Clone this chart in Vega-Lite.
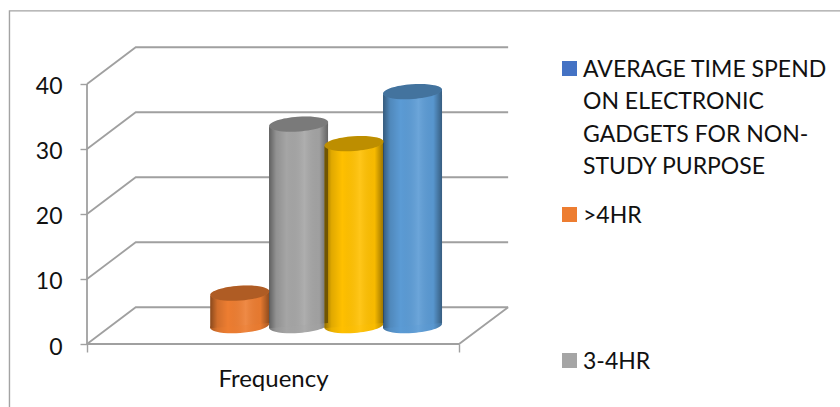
{
  "$schema": "https://vega.github.io/schema/vega-lite/v6.json",
  "width": 423,
  "height": 297,
  "autosize": "none",
  "padding": {"left": 87, "top": 47, "right": 330, "bottom": 63},
  "background": "white",
  "config": {"view": {"stroke": null}, "style": {"guide-label": {"lineHeight": 32.5}}},
  "datasets": {
    "frequency": [
      {"series": ">4HR", "slot": 0.4106, "value": 5},
      {"series": "3-4HR", "slot": 0.5686, "value": 31},
      {"series": "2-3HR", "slot": 0.7177, "value": 28},
      {"series": "<2HR", "slot": 0.8750, "value": 36}
    ],
    "sides": [
      {"series": ">4HR", "edge": 0.3313, "top": 4.6, "base": -0.4},
      {"series": ">4HR", "edge": 0.4899, "top": 5.4, "base": 0.4},
      {"series": "3-4HR", "edge": 0.4893, "top": 30.6, "base": -0.4},
      {"series": "3-4HR", "edge": 0.6479, "top": 31.4, "base": 0.4},
      {"series": "2-3HR", "edge": 0.6384, "top": 27.6, "base": -0.4},
      {"series": "2-3HR", "edge": 0.7970, "top": 28.4, "base": 0.4},
      {"series": "<2HR", "edge": 0.7957, "top": 35.6, "base": -0.4},
      {"series": "<2HR", "edge": 0.9543, "top": 36.4, "base": 0.4}
    ],
    "walls": [
      {"part": "40", "u": 0, "v": 40}, {"part": "40", "u": 0.131, "v": 45.65}, {"part": "40", "u": 1.132, "v": 45.65},
      {"part": "30", "u": 0, "v": 30}, {"part": "30", "u": 0.131, "v": 35.65}, {"part": "30", "u": 1.132, "v": 35.65},
      {"part": "20", "u": 0, "v": 20}, {"part": "20", "u": 0.131, "v": 25.65}, {"part": "20", "u": 1.132, "v": 25.65},
      {"part": "10", "u": 0, "v": 10}, {"part": "10", "u": 0.131, "v": 15.65}, {"part": "10", "u": 1.132, "v": 15.65},
      {"part": "0", "u": 0, "v": 0}, {"part": "0", "u": 0.131, "v": 5.65}, {"part": "0", "u": 1.132, "v": 5.65},
      {"part": "floor", "u": 0, "v": 0}, {"part": "floor", "u": 1, "v": 0}, {"part": "floor", "u": 1.132, "v": 5.65},
      {"part": "spine", "u": 0, "v": 0}, {"part": "spine", "u": 0, "v": 40}
    ],
    "outline": [
      {"u": -0.2084, "v": -9.7}, {"u": -0.2084, "v": 51.25}, {"u": 2.03, "v": 51.25}
    ]
  },
  "layer": [
    {
      "data": {"name": "outline"},
      "mark": {"type": "line", "stroke": "#a3a3a3", "strokeWidth": 1.4, "clip": false},
      "encoding": {
        "x": {"field": "u", "type": "quantitative", "scale": {"domain": [0, 1.137], "nice": false, "zero": false}, "axis": {"values": [0, 1], "labels": false, "domain": false, "grid": false, "tickSize": 8, "tickWidth": 1.4, "tickColor": "#a0a0a0", "title": "Frequency", "titleFont": "Lato", "titleFontSize": 24, "titleFontWeight": "normal", "titleColor": "#111111", "titleX": 186, "titleY": 35, "titleBaseline": "middle", "titleAlign": "center"}},
        "y": {"field": "v", "type": "quantitative", "scale": {"domain": [0, 45.69], "nice": false, "zero": false}, "axis": {"values": [0, 10, 20, 30, 40], "domain": false, "grid": false, "title": null, "tickSize": 7, "tickWidth": 1.4, "tickColor": "#a0a0a0", "labelFont": "Lato", "labelFontSize": 23, "labelColor": "#111111", "labelPadding": 18, "labelOffset": 3}},
        "order": {"field": "v", "type": "quantitative"}
      }
    },
    {
      "data": {"name": "walls"},
      "mark": {"type": "line", "stroke": "#a0a0a0", "strokeWidth": 1.8, "clip": false},
      "encoding": {
        "x": {"field": "u", "type": "quantitative"},
        "y": {"field": "v", "type": "quantitative", "scale": {"domain": [0, 45.69], "nice": false, "zero": false}, "axis": null},
        "detail": {"field": "part"},
        "order": {"field": "u", "type": "quantitative"}
      }
    },
    {
      "data": {"name": "frequency"},
      "mark": {"type": "point", "filled": true, "opacity": 1, "size": 3481, "shape": "M-1,0.07A1.002,0.25,-4,1,1,1,-0.07A1.002,0.25,-4,1,1,-1,0.07Z"},
      "encoding": {
        "x": {"field": "slot", "type": "quantitative"},
        "y": {"datum": 0, "type": "quantitative", "scale": {"domain": [-2.82, 42.87], "nice": false, "zero": false}, "axis": null},
        "color": {
          "field": "series",
          "type": "nominal",
          "scale": {
            "domain": ["AVERAGE TIME SPEND ON ELECTRONIC GADGETS FOR NON-STUDY PURPOSE", ">4HR", "3-4HR", "2-3HR", "<2HR"],
            "range": ["#4472c4", "#ed7d31", "#a5a5a5", "#ffc000", "#5b9bd5"]
          },
          "legend": {
            "values": ["AVERAGE TIME SPEND ON ELECTRONIC GADGETS FOR NON-STUDY PURPOSE", ">4HR", "3-4HR"],
            "orient": "none",
            "legendX": 471,
            "legendY": 18,
            "title": null,
            "symbolType": "M-1,-2.07H1V-0.07H-1Z",
            "symbolSize": 225,
            "symbolStrokeWidth": 0,
            "symbolOpacity": 1,
            "gridAlign": "all",
            "rowPadding": 25,
            "labelFont": "Lato",
            "labelFontSize": 23,
            "labelColor": "#111111",
            "labelLimit": 300,
            "labelOffset": 2,
            "labelBaseline": "alphabetic",
            "labelExpr": "datum.label[0] == 'A' ? ['AVERAGE TIME SPEND', 'ON ELECTRONIC', 'GADGETS FOR NON-', 'STUDY PURPOSE'] : datum.label"
          }
        }
      }
    },
    {
      "data": {"name": "frequency"},
      "mark": {"type": "point", "filled": true, "size": 3481, "shape": "M-1,0.07A1.002,0.25,-4,1,1,1,-0.07A1.002,0.25,-4,1,1,-1,0.07Z",
        "color": {"gradient": "linear", "x1": 0, "x2": 1, "y1": 0, "y2": 0, "stops": [
          {"offset": 0, "color": "rgba(0,0,0,0.42)"}, {"offset": 0.12, "color": "rgba(0,0,0,0.12)"}, {"offset": 0.3, "color": "rgba(0,0,0,0)"},
          {"offset": 0.6, "color": "rgba(255,255,255,0.1)"}, {"offset": 0.85, "color": "rgba(0,0,0,0.03)"},
          {"offset": 1, "color": "rgba(0,0,0,0.4)"}]}},
      "encoding": {
        "x": {"field": "slot", "type": "quantitative"},
        "y": {"datum": 0, "type": "quantitative", "scale": {"domain": [-2.82, 42.87], "nice": false, "zero": false}, "axis": null}
      }
    },
    {
      "data": {"name": "sides"},
      "mark": {"type": "area", "orient": "vertical", "interpolate": "linear", "opacity": 1},
      "encoding": {
        "x": {"field": "edge", "type": "quantitative"},
        "y": {"field": "top", "type": "quantitative", "stack": null, "scale": {"domain": [-2.82, 42.87], "nice": false, "zero": false}, "axis": null},
        "y2": {"field": "base"},
        "color": {"field": "series", "type": "nominal", "legend": null}
      }
    },
    {
      "data": {"name": "sides"},
      "mark": {"type": "area", "orient": "vertical", "interpolate": "linear",
        "color": {"gradient": "linear", "x1": 0, "x2": 1, "y1": 0, "y2": 0, "stops": [
          {"offset": 0, "color": "rgba(0,0,0,0.42)"}, {"offset": 0.12, "color": "rgba(0,0,0,0.12)"}, {"offset": 0.3, "color": "rgba(0,0,0,0)"},
          {"offset": 0.6, "color": "rgba(255,255,255,0.1)"}, {"offset": 0.85, "color": "rgba(0,0,0,0.03)"},
          {"offset": 1, "color": "rgba(0,0,0,0.4)"}]}},
      "encoding": {
        "x": {"field": "edge", "type": "quantitative"},
        "y": {"field": "top", "type": "quantitative", "stack": null, "scale": {"domain": [-2.82, 42.87], "nice": false, "zero": false}, "axis": null},
        "y2": {"field": "base"},
        "detail": {"field": "series"}
      }
    },
    {
      "data": {"name": "frequency"},
      "mark": {"type": "point", "filled": true, "opacity": 1, "size": 3481, "shape": "M-1,0.07A1.002,0.25,-4,1,1,1,-0.07A1.002,0.25,-4,1,1,-1,0.07Z"},
      "encoding": {
        "x": {"field": "slot", "type": "quantitative"},
        "y": {"field": "value", "type": "quantitative", "scale": {"domain": [-2.82, 42.87], "nice": false, "zero": false}, "axis": null},
        "color": {"field": "series", "type": "nominal", "legend": null}
      }
    },
    {
      "data": {"name": "frequency"},
      "mark": {"type": "point", "filled": true, "opacity": 0.26, "size": 3481, "color": "#000000", "shape": "M-1,0.07A1.002,0.25,-4,1,1,1,-0.07A1.002,0.25,-4,1,1,-1,0.07Z"},
      "encoding": {
        "x": {"field": "slot", "type": "quantitative"},
        "y": {"field": "value", "type": "quantitative", "scale": {"domain": [-2.82, 42.87], "nice": false, "zero": false}, "axis": null}
      }
    }
  ],
  "resolve": {"scale": {"y": "independent"}}
}
